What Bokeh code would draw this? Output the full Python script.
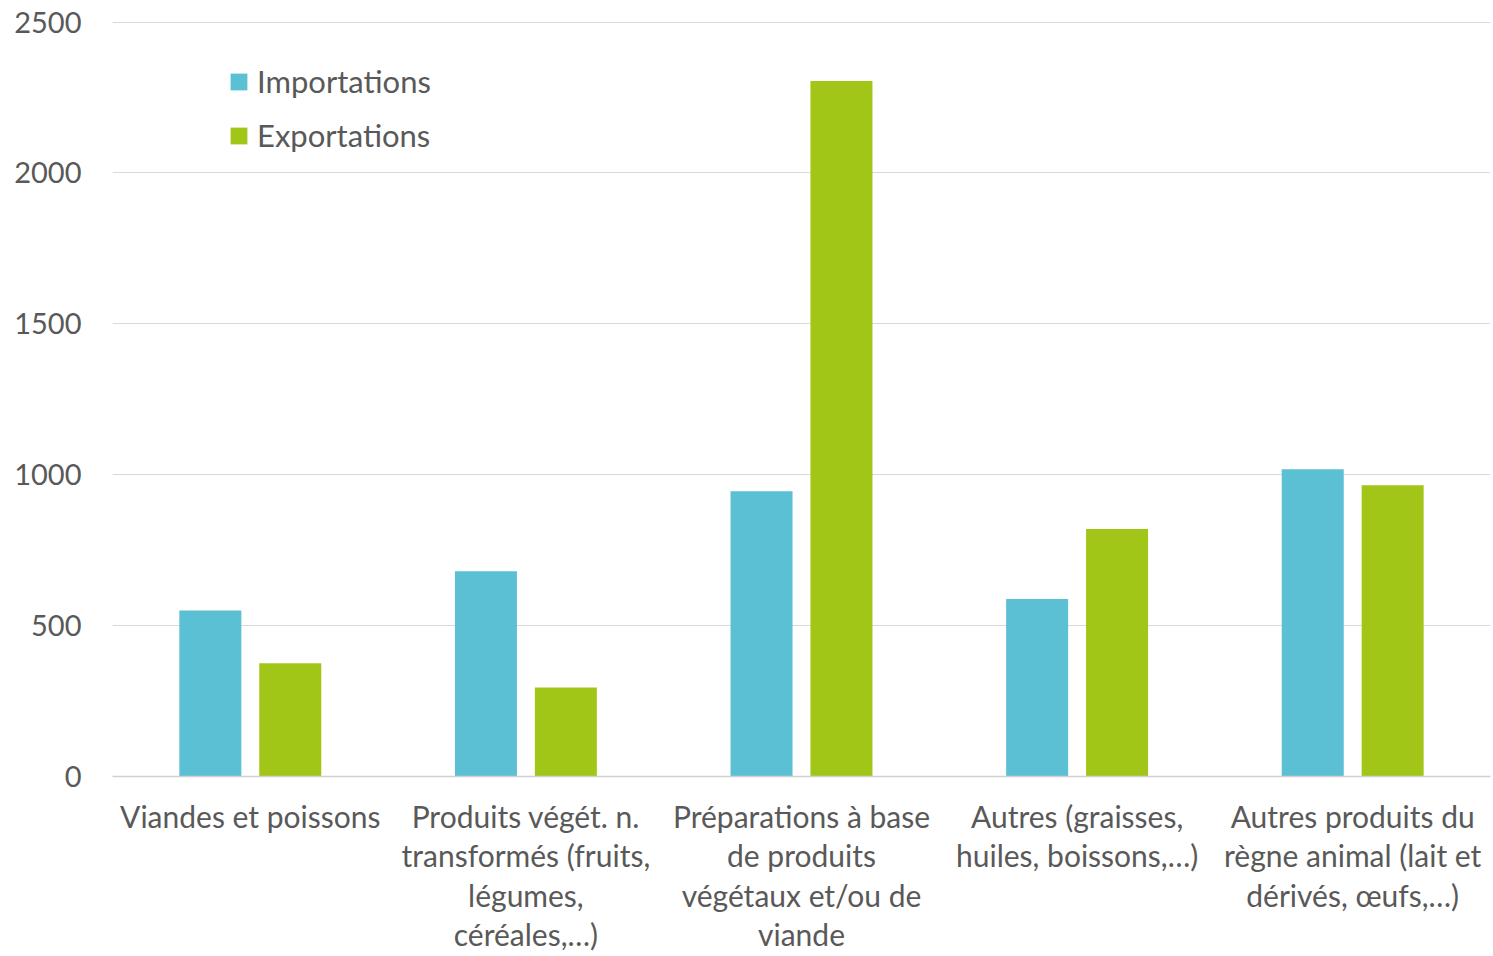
from bokeh.plotting import figure
from bokeh.models import ColumnDataSource, FixedTicker, Legend, LegendItem
from bokeh.embed import file_html
from bokeh.resources import INLINE

categories = [
    "Viandes et poissons",
    "Produits végét. n.\ntransformés (fruits,\nlégumes,\ncéréales,…)",
    "Préparations à base\nde produits\nvégétaux et/ou de\nviande",
    "Autres (graisses,\nhuiles, boissons,…)",
    "Autres produits du\nrègne animal (lait et\ndérivés, œufs,…)",
]
importations = [550, 680, 945, 588, 1018]
exportations = [375, 295, 2305, 820, 965]
y_ticks = [0, 500, 1000, 1500, 2000, 2500]

IMP_COLOR = "#5BC0D4"
EXP_COLOR = "#A2C617"
FONT = "Lato"
TXT = "#595959"

idx = list(range(len(categories)))
src = ColumnDataSource(dict(
    x_imp=[i - 0.145 for i in idx],
    x_exp=[i + 0.145 for i in idx],
    imp=importations,
    exp=exportations,
))

p = figure(width=1493, height=956, output_backend="svg", toolbar_location=None,
           x_range=(-0.5, len(categories) - 0.5), y_range=(0, 2502),
           min_border_left=112, min_border_right=3, min_border_top=21, min_border_bottom=180)
p.outline_line_color = None
p.background_fill_color = "white"

r_imp = p.vbar(x="x_imp", top="imp", width=0.225, source=src, fill_color=IMP_COLOR, line_color=None)
r_exp = p.vbar(x="x_exp", top="exp", width=0.225, source=src, fill_color=EXP_COLOR, line_color=None)

p.xgrid.grid_line_color = None
p.ygrid.grid_line_color = "#D9D9D9"
p.ygrid.grid_line_width = 1

p.yaxis.ticker = FixedTicker(ticks=y_ticks)
p.yaxis.axis_line_color = None
p.yaxis.major_tick_line_color = None
p.yaxis.minor_tick_line_color = None
p.yaxis.major_label_text_font = FONT
p.yaxis.major_label_text_font_size = "29px"
p.yaxis.major_label_text_color = TXT
p.yaxis.major_label_standoff = 25

p.xaxis.ticker = FixedTicker(ticks=idx)
p.xaxis.major_label_overrides = {i: c for i, c in enumerate(categories)}
p.xaxis.axis_line_color = "#D0D0D0"
p.xaxis.axis_line_width = 1.5
p.xaxis.major_tick_line_color = None
p.xaxis.minor_tick_line_color = None
p.xaxis.major_label_text_font = FONT
p.xaxis.major_label_text_font_size = "30px"
p.xaxis.major_label_text_color = TXT
p.xaxis.major_label_standoff = 15
p.xaxis.major_label_text_line_height = 1.1

legend = Legend(items=[LegendItem(label="Importations", renderers=[r_imp]),
                       LegendItem(label="Exportations", renderers=[r_exp])],
                location=(116, 622), orientation="vertical")
legend.label_text_font = FONT
legend.label_text_font_size = "31px"
legend.label_text_color = TXT
legend.glyph_width = 21
legend.glyph_height = 21
legend.label_standoff = 8
legend.spacing = 16
legend.padding = 0
legend.margin = 0
legend.border_line_color = None
legend.background_fill_alpha = 0
p.add_layout(legend)

open("out.html", "w").write(file_html(p, INLINE))
